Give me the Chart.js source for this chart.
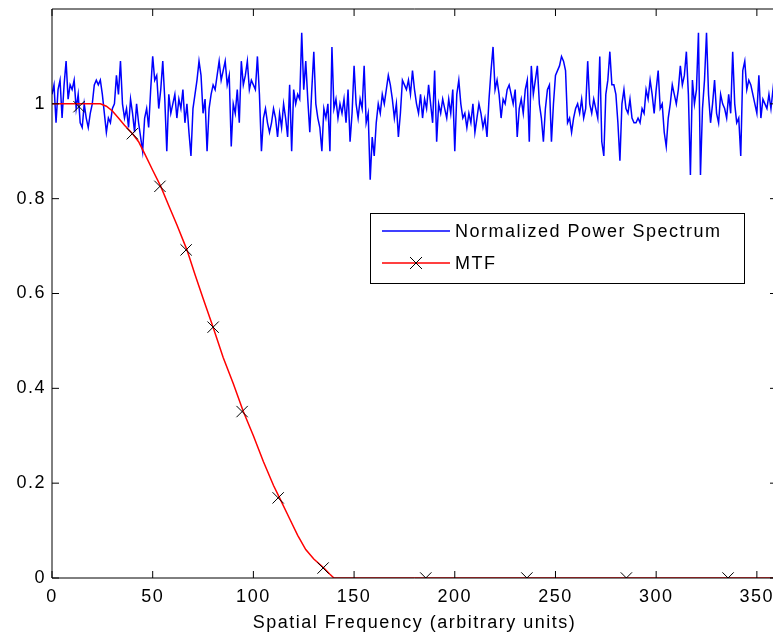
<!DOCTYPE html>
<html>
<head>
<meta charset="utf-8">
<script src="https://cdn.jsdelivr.net/npm/chart.js@4"></script>
<style>
  html, body { margin: 0; padding: 0; background: #fff; overflow: hidden; }
</style>
</head>
<body>
<canvas id="mtfChart" width="795" height="640"></canvas>
<script>
// normalized power spectrum, one sample per frequency unit (0..359)
const noiseValues = [
  1.02, 1.04, 0.96, 1.03, 1.05, 0.97, 1.04, 1.09, 1.01, 1.04,
  1.03, 1.05, 0.99, 1.02, 0.96, 0.95, 1.00, 0.97, 0.95, 0.98,
  1.00, 1.04, 1.05, 1.04, 1.05, 1.02, 0.98, 0.94, 0.97, 0.96,
  0.99, 1.00, 1.06, 1.02, 1.09, 1.00, 0.97, 0.99, 0.95, 1.01,
  0.98, 0.94, 1.00, 0.96, 0.93, 0.90, 0.97, 0.99, 0.95, 1.03,
  1.10, 1.05, 1.06, 0.99, 1.03, 1.09, 1.01, 0.90, 1.02, 0.98,
  1.00, 1.02, 0.97, 1.01, 0.99, 1.03, 0.96, 1.00, 0.94, 0.89,
  0.99, 1.02, 1.05, 1.09, 1.06, 0.98, 1.01, 0.90, 0.99, 1.02,
  1.04, 1.03, 1.06, 1.09, 1.05, 1.07, 1.09, 1.04, 1.06, 0.91,
  1.00, 0.98, 1.03, 0.96, 1.09, 1.04, 1.06, 1.09, 1.03, 1.05,
  1.04, 1.03, 1.10, 1.02, 0.90, 0.97, 0.99, 0.96, 0.94, 0.96,
  0.99, 0.97, 0.93, 0.98, 0.95, 1.00, 0.97, 0.93, 1.04, 0.90,
  1.03, 1.00, 1.02, 1.01, 1.15, 1.03, 1.09, 1.01, 0.94, 1.03,
  1.11, 1.00, 0.97, 0.95, 0.90, 0.99, 0.97, 1.00, 0.90, 1.12,
  0.99, 1.01, 0.97, 1.00, 0.98, 1.01, 0.96, 1.03, 0.92, 0.98,
  1.08, 1.00, 0.97, 1.01, 0.99, 1.08, 0.96, 0.98, 0.84, 0.93,
  0.89, 0.96, 1.00, 0.98, 1.02, 1.00, 1.03, 1.06, 1.04, 1.01,
  0.97, 1.00, 0.93, 0.98, 1.05, 1.04, 1.03, 1.05, 1.02, 1.07,
  1.03, 1.00, 0.98, 1.02, 0.97, 1.01, 0.99, 1.04, 1.00, 0.96,
  1.07, 0.92, 1.00, 0.98, 1.01, 0.99, 0.97, 1.01, 0.98, 1.03,
  0.90, 1.02, 1.05, 1.00, 0.97, 0.98, 0.95, 0.98, 0.96, 1.00,
  0.94, 0.97, 1.00, 0.98, 0.95, 0.97, 0.93, 1.01, 1.07, 1.12,
  1.03, 1.05, 1.02, 0.97, 1.01, 1.00, 1.03, 1.04, 1.02, 1.00,
  1.03, 0.93, 0.99, 1.01, 0.98, 1.03, 1.05, 0.92, 1.08, 1.02,
  1.05, 1.08, 1.00, 0.97, 0.92, 0.99, 1.03, 1.04, 0.92, 1.00,
  1.06, 1.07, 1.08, 1.10, 1.09, 1.07, 0.96, 0.97, 0.94, 0.97,
  0.99, 1.00, 0.98, 1.01, 0.97, 0.99, 1.09, 1.00, 0.98, 1.01,
  0.99, 0.97, 1.10, 0.92, 0.89, 1.02, 1.05, 1.11, 1.04, 1.04,
  1.02, 0.96, 0.88, 1.00, 1.03, 0.99, 0.98, 1.01, 0.97, 0.96,
  0.96, 0.97, 0.96, 0.99, 0.98, 1.03, 1.01, 1.05, 1.02, 0.98,
  1.03, 1.07, 0.99, 1.00, 0.94, 0.91, 0.97, 1.00, 1.04, 1.02,
  1.00, 1.03, 1.08, 1.04, 1.06, 1.11, 1.02, 0.85, 1.05, 1.00,
  1.03, 1.15, 0.85, 0.99, 1.05, 1.15, 1.02, 0.96, 1.00, 1.05,
  0.98, 0.96, 1.02, 1.00, 0.99, 0.97, 1.02, 0.98, 1.11, 1.00,
  0.96, 0.97, 0.89, 1.07, 1.09, 1.03, 1.05, 1.04, 1.02, 1.00,
  0.98, 1.06, 0.97, 1.01, 1.00, 0.99, 1.02, 0.99, 1.03, 1.07
];

// MTF curve
const mtfFreq = [0, 24, 27, 30, 33, 36, 40, 43, 46, 50, 54, 58, 62, 67, 71, 75, 80, 85, 90, 95,
  100, 105, 110, 113, 118, 122, 126, 130, 135, 138, 140, 360];
const mtfValues = [1, 1, 0.995, 0.985, 0.97, 0.955, 0.937, 0.92, 0.895, 0.86, 0.826, 0.785, 0.745, 0.692, 0.64, 0.59, 0.529, 0.465, 0.41, 0.351,
  0.3, 0.245, 0.195, 0.169, 0.125, 0.09, 0.06, 0.04, 0.021, 0.008, 0, 0];

// sampled MTF points (x markers)
const markerFreq = [13.4, 39.9, 53.6, 66.6, 80, 94.4, 112.3, 134.6, 185.6, 235.8, 285.2, 335.7];
const markerValues = [0.994, 0.937, 0.826, 0.692, 0.529, 0.351, 0.169, 0.021, 0, 0, 0, 0];

const xTicks = [0, 50, 100, 150, 200, 250, 300, 350];
const yTicks = [0, 0.2, 0.4, 0.6, 0.8, 1];
const legendLabels = ['Normalized Power Spectrum', 'MTF'];
const xTitle = 'Spatial Frequency (arbitrary units)';

const font = { family: "'Liberation Sans', Arial, Helvetica, sans-serif", size: 18 };

// MATLAB-ish look: wider letter spacing on every text
const spacing = {
  id: 'spacing',
  beforeLayout(chart) { chart.ctx.letterSpacing = '1.5px'; },
  beforeDraw(chart) { chart.ctx.letterSpacing = '1.5px'; }
};

// box around the axes plus inward ticks on all four sides
const frame = {
  id: 'frame',
  afterDraw(chart) {
    const { ctx, chartArea: a, scales } = chart;
    ctx.save();
    ctx.strokeStyle = '#000';
    ctx.lineWidth = 1;
    ctx.beginPath();
    ctx.rect(a.left, a.top, a.right - a.left, a.bottom - a.top);
    scales.x.ticks.forEach(t => {
      const px = scales.x.getPixelForValue(t.value);
      ctx.moveTo(px, a.bottom); ctx.lineTo(px, a.bottom - 7);
      ctx.moveTo(px, a.top); ctx.lineTo(px, a.top + 7);
    });
    scales.y.ticks.forEach(t => {
      const py = scales.y.getPixelForValue(t.value);
      ctx.moveTo(a.left, py); ctx.lineTo(a.left + 7, py);
      ctx.moveTo(a.right, py); ctx.lineTo(a.right - 7, py);
    });
    ctx.stroke();
    ctx.restore();
  }
};

// legend box inside the axes
const boxLegend = {
  id: 'boxLegend',
  afterDraw(chart) {
    const ctx = chart.ctx;
    const bx = 370, by = 213, bw = 374, bh = 70;
    ctx.save();
    ctx.fillStyle = '#fff';
    ctx.fillRect(bx, by, bw, bh);
    ctx.strokeStyle = '#000';
    ctx.lineWidth = 1;
    ctx.strokeRect(bx + 0.5, by + 0.5, bw, bh);

    ctx.lineWidth = 1.5;
    ctx.strokeStyle = '#0000ff';
    ctx.beginPath(); ctx.moveTo(382, 231); ctx.lineTo(450, 231); ctx.stroke();
    ctx.strokeStyle = '#ff0000';
    ctx.beginPath(); ctx.moveTo(382, 263); ctx.lineTo(450, 263); ctx.stroke();
    ctx.strokeStyle = '#000';
    ctx.lineWidth = 1;
    ctx.beginPath();
    ctx.moveTo(410, 257); ctx.lineTo(422, 269);
    ctx.moveTo(422, 257); ctx.lineTo(410, 269);
    ctx.stroke();

    ctx.fillStyle = '#000';
    ctx.font = `${font.size}px ${font.family}`;
    ctx.textBaseline = 'middle';
    ctx.textAlign = 'left';
    ctx.fillText(legendLabels[0], 455, 232);
    ctx.fillText(legendLabels[1], 455, 264);
    ctx.restore();
  }
};

const ctx = document.getElementById('mtfChart').getContext('2d');

new Chart(ctx, {
  type: 'line',
  data: {
    datasets: [
      {
        label: legendLabels[0],
        data: noiseValues.map((v, i) => ({ x: i, y: v })),
        borderColor: '#0000ff',
        borderWidth: 1.5,
        pointRadius: 0,
        tension: 0,
        order: 3
      },
      {
        label: legendLabels[1],
        data: mtfFreq.map((f, i) => ({ x: f, y: mtfValues[i] })),
        borderColor: '#ff0000',
        borderWidth: 1.5,
        pointRadius: 0,
        tension: 0,
        order: 2
      },
      {
        label: 'MTF samples',
        data: markerFreq.map((f, i) => ({ x: f, y: markerValues[i] })),
        showLine: false,
        pointStyle: 'crossRot',
        pointRadius: 8,
        borderColor: '#000',
        backgroundColor: '#000',
        borderWidth: 1,
        order: 1
      }
    ]
  },
  options: {
    responsive: false,
    animation: false,
    devicePixelRatio: 1,
    layout: { padding: { top: 3, right: 18, bottom: 0, left: 0 } },
    plugins: {
      legend: { display: false },
      tooltip: { enabled: false }
    },
    scales: {
      x: {
        type: 'linear',
        min: 0,
        max: 360,
        afterBuildTicks: s => { s.ticks = xTicks.map(v => ({ value: v })); },
        afterFit: s => { s.height = 62; s.paddingLeft = 0; s.paddingRight = 0; },
        grid: { display: false, drawTicks: false },
        border: { display: false },
        ticks: { font, color: '#000', padding: 8, maxRotation: 0, autoSkip: false, callback: v => String(v) },
        title: { display: true, text: xTitle, font, color: '#000', padding: { top: 0, bottom: 6 } }
      },
      y: {
        min: 0,
        max: 1.2,
        afterBuildTicks: s => { s.ticks = yTicks.map(v => ({ value: v })); },
        afterFit: s => { s.width = 52; s.paddingTop = 0; s.paddingBottom = 0; },
        grid: { display: false, drawTicks: false },
        border: { display: false },
        ticks: { font, color: '#000', padding: 6, callback: v => String(v) }
      }
    }
  },
  plugins: [spacing, frame, boxLegend]
});
</script>
</body>
</html>
